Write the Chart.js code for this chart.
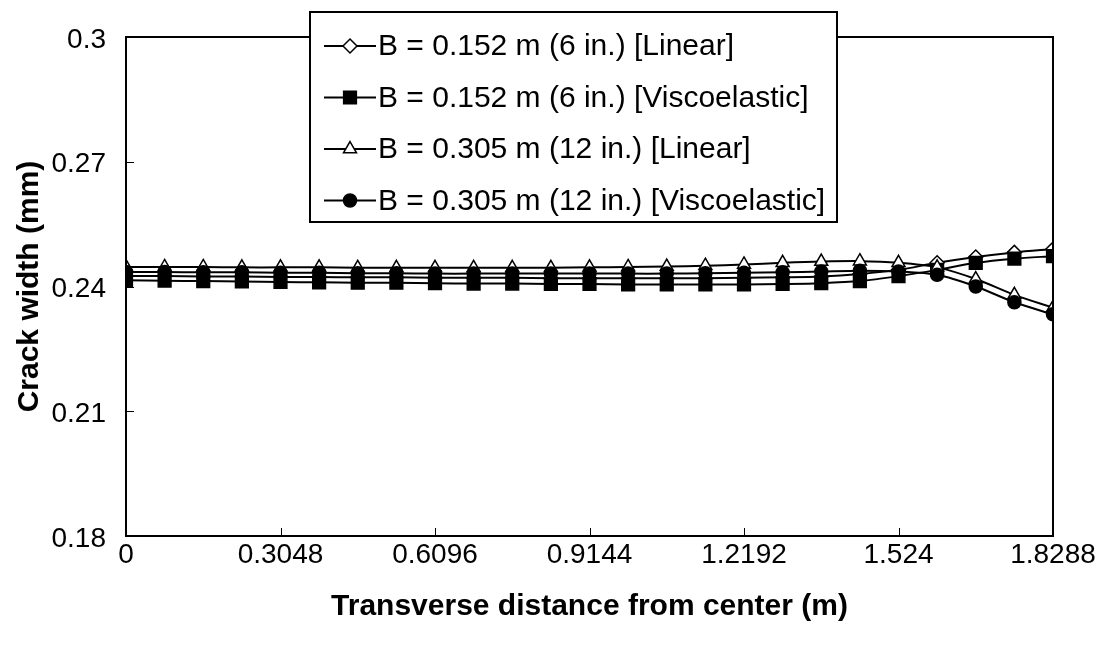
<!DOCTYPE html>
<html>
<head>
<meta charset="utf-8">
<script src="https://cdn.jsdelivr.net/npm/chart.js@4/dist/chart.umd.min.js"></script>
<style>
html,body{margin:0;padding:0;background:#fff;}
#wrap{width:1103px;height:649px;}
</style>
</head>
<body>
<div id="wrap"><canvas id="c" width="1103" height="649"></canvas></div>
<script>
const xValues = [0,0.0762,0.1524,0.2286,0.3048,0.381,0.4572,0.5334,0.6096,0.6858,0.762,0.8382,0.9144,0.9906,1.0668,1.143,1.2192,1.2954,1.3716,1.4478,1.524,1.6002,1.6764,1.7526,1.8288];
const b6Linear  = [.2425,.2425,.2424,.2424,.2423,.2423,.2422,.2422,.2421,.2421,.2421,.2420,.2420,.2420,.2420,.2420,.2421,.2422,.2424,.2430,.2440,.2457,.2471,.2482,.2490];
const b6Visco   = [.2415,.2414,.2413,.2412,.2411,.2410,.2409,.2409,.2408,.2407,.2407,.2406,.2406,.2405,.2405,.2405,.2405,.2406,.2408,.2413,.2425,.2440,.2457,.2467,.2473];
const b12Linear = [.2447,.2447,.2447,.2446,.2446,.2446,.2445,.2445,.2445,.2445,.2445,.2445,.2446,.2447,.2448,.2450,.2453,.2457,.2460,.2461,.2457,.2446,.2418,.2380,.2349];
const b12Visco  = [.2435,.2435,.2434,.2434,.2433,.2433,.2432,.2432,.2431,.2431,.2431,.2431,.2431,.2431,.2431,.2432,.2433,.2434,.2436,.2438,.2436,.2428,.2400,.2362,.2333];
const seriesLabels = ['B = 0.152 m (6 in.) [Linear]','B = 0.152 m (6 in.) [Viscoelastic]','B = 0.305 m (12 in.) [Linear]','B = 0.305 m (12 in.) [Viscoelastic]'];
const xTickLabels = ['0','0.3048','0.6096','0.9144','1.2192','1.524','1.8288'];
const yTickLabels = ['0.18','0.21','0.24','0.27','0.3'];

const FONT = '"Liberation Sans", Arial, sans-serif';
function pts(arr){ return arr.map((v,i)=>({x:xValues[i], y:v})); }

const styles = [
  {pointStyle:'rectRot', bg:'#fff', r:7},
  {pointStyle:'rect', bg:'#000', r:9},
  {pointStyle:'triangle', bg:'#fff', r:7.5},
  {pointStyle:'circle', bg:'#000', r:6.5}
];
const seriesData = [b6Linear,b6Visco,b12Linear,b12Visco];

const datasets = seriesData.map((d,i)=>({
  label: seriesLabels[i],
  data: pts(d),
  order: 4 - i,
  borderColor:'#000',
  borderWidth:2,
  pointStyle: styles[i].pointStyle,
  pointRadius: styles[i].r,
  pointBackgroundColor: styles[i].bg,
  pointBorderColor:'#000',
  pointBorderWidth:1.5,
  tension:0.3,
  fill:false
}));

const framePlugin = {
  id:'frame',
  afterDatasetsDraw(chart){
    const {ctx, chartArea:a, scales} = chart;
    ctx.save();
    ctx.strokeStyle='#000'; ctx.lineWidth=1;
    scales.x.ticks.forEach(t=>{
      const x = Math.round(scales.x.getPixelForValue(t.value))+0.5;
      ctx.beginPath(); ctx.moveTo(x,a.bottom); ctx.lineTo(x,a.bottom-8); ctx.stroke();
    });
    scales.y.ticks.forEach(t=>{
      const y = Math.round(scales.y.getPixelForValue(t.value))+0.5;
      ctx.beginPath(); ctx.moveTo(a.left,y); ctx.lineTo(a.left+8,y); ctx.stroke();
    });
    ctx.lineWidth=2;
    ctx.strokeRect(a.left, a.top, a.right-a.left, a.bottom-a.top);
    // legend
    const lx=310, ly=12, lw=527, lh=210;
    ctx.fillStyle='#fff';
    ctx.fillRect(lx,ly,lw,lh);
    ctx.lineWidth=2; ctx.strokeStyle='#000';
    ctx.strokeRect(lx,ly,lw,lh);
    ctx.font = '30px '+FONT;
    ctx.textBaseline='middle';
    ctx.textAlign='left';
    chart.data.datasets.forEach((ds,i)=>{
      const cy = 46 + i*51.5;
      ctx.strokeStyle='#000'; ctx.lineWidth=2;
      ctx.beginPath(); ctx.moveTo(324,cy); ctx.lineTo(376,cy); ctx.stroke();
      ctx.fillStyle = ds.pointBackgroundColor;
      ctx.strokeStyle='#000'; ctx.lineWidth=1.5;
      Chart.helpers.drawPoint(ctx,{pointStyle:ds.pointStyle, radius:ds.pointRadius, borderWidth:1.5, rotation:0}, 350, cy);
      ctx.fillStyle='#000';
      ctx.fillText(ds.label, 378, cy+1);
    });
    ctx.restore();
  }
};

new Chart(document.getElementById('c'),{
  type:'line',
  data:{datasets},
  options:{
    responsive:false,
    animation:false,
    devicePixelRatio:1,
    layout:{padding:{top:37,right:50,left:0,bottom:0}},
    plugins:{legend:{display:false}, tooltip:{enabled:false}},
    scales:{
      x:{
        type:'linear', min:0, max:1.8288,
        afterBuildTicks(s){ s.ticks = xTickLabels.map(v=>({value:parseFloat(v)})); },
        afterFit(s){ s.height = 113; },
        grid:{display:false, drawTicks:false},
        border:{display:false},
        ticks:{color:'#000', font:{family:FONT, size:28}, padding:2, maxRotation:0, autoSkip:false,
          callback:(v,i)=>xTickLabels[i]},
        title:{display:true, text:'Transverse distance from center (m)', color:'#000',
          font:{family:FONT, size:30, weight:'bold'}, padding:{top:0,bottom:24}}
      },
      y:{
        type:'linear', min:0.18, max:0.3,
        afterBuildTicks(s){ s.ticks = yTickLabels.map(v=>({value:parseFloat(v)})); },
        afterFit(s){ s.width = 126; },
        grid:{display:false, drawTicks:false},
        border:{display:false},
        ticks:{color:'#000', font:{family:FONT, size:28}, padding:20, autoSkip:false, labelOffset:3,
          callback:(v,i)=>yTickLabels[i]},
        title:{display:true, text:'Crack width (mm)', color:'#000',
          font:{family:FONT, size:30, weight:'bold'}, padding:{top:12,bottom:0}}
      }
    }
  },
  plugins:[framePlugin]
});
</script>
</body>
</html>
